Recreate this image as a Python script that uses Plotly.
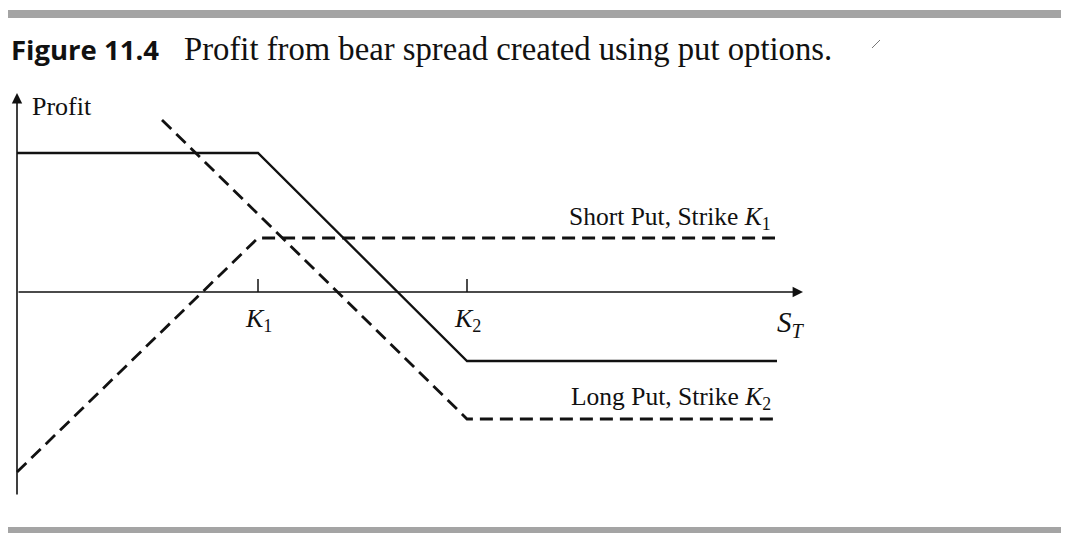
import plotly.graph_objects as go

# payoff breakpoints (S_T, profit)
bear_s = [0, 24.1, 45.0, 76.0]
bear_profit = [13.9, 13.9, -6.9, -6.9]

long_put_s = [14.5, 45.0, 76.0]
long_put_profit = [17.2, -12.7, -12.7]

short_put_s = [0, 24.1, 75.8]
short_put_profit = [-18.0, 5.4, 5.4]

strikes = [24.1, 45.0]
strike_labels = ["<i>K</i><sub>1</sub>", "<i>K</i><sub>2</sub>"]

serif = "Liberation Serif"
black = "#111111"

fig = go.Figure()
fig.add_trace(go.Scatter(x=bear_s, y=bear_profit, mode="lines",
                         line=dict(color=black, width=2.3)))
fig.add_trace(go.Scatter(x=long_put_s, y=long_put_profit, mode="lines",
                         line=dict(color=black, width=2.8, dash="13px,7px")))
fig.add_trace(go.Scatter(x=short_put_s, y=short_put_profit, mode="lines",
                         line=dict(color=black, width=2.8, dash="13px,7px")))

# axes with arrows
fig.add_annotation(x=78.6, y=0, ax=0, ay=0, xref="x", yref="y", axref="x", ayref="y",
                   showarrow=True, arrowhead=2, arrowsize=1.3, arrowwidth=1.6,
                   arrowcolor=black, text="")
fig.add_annotation(x=0, y=19.9, ax=0, ay=-20.4, xref="x", yref="y", axref="x", ayref="y",
                   showarrow=True, arrowhead=2, arrowsize=1.3, arrowwidth=1.6,
                   arrowcolor=black, text="")

for k, lab in zip(strikes, strike_labels):
    fig.add_shape(type="line", x0=k, x1=k, y0=0, y1=1.3,
                  line=dict(color=black, width=1.5))
    fig.add_annotation(x=k, y=-2.8, text=lab, showarrow=False,
                       font=dict(family=serif, size=26, color=black))

fig.add_annotation(x=77.4, y=-3.2, text="<i>S</i><sub><i>T</i></sub>", showarrow=False,
                   font=dict(family=serif, size=29, color=black))
fig.add_annotation(x=1.3, y=18.6, text="Profit", showarrow=False, xanchor="left",
                   font=dict(family=serif, size=26, color=black))
fig.add_annotation(x=75.6, y=7.4, text="Short Put, Strike <i>K</i><sub>1</sub>",
                   showarrow=False, xanchor="right",
                   font=dict(family=serif, size=25.5, color=black))
fig.add_annotation(x=75.6, y=-10.6, text="Long Put, Strike <i>K</i><sub>2</sub>",
                   showarrow=False, xanchor="right",
                   font=dict(family=serif, size=25.5, color=black))

# caption
fig.add_annotation(x=-0.8, y=24.3, text="<b>Figure 11.4</b>", showarrow=False,
                   xanchor="left", font=dict(family="Open Sans", size=27.5, color=black))
fig.add_annotation(x=16.5, y=24.3, text="Profit from bear spread created using put options.",
                   showarrow=False, xanchor="left",
                   font=dict(family=serif, size=32.7, color=black))

# scanned rule bars
fig.add_shape(type="rect", xref="paper", x0=0, x1=1, y0=27.4, y1=28.2,
              line_width=0, fillcolor="#a4a4a4")
fig.add_shape(type="rect", xref="paper", x0=0, x1=1, y0=-24.1, y1=-23.5,
              line_width=0, fillcolor="#a4a4a4")
fig.add_shape(type="line", x0=85.5, x1=86.3, y0=24.4, y1=25.2,
              line=dict(color="#777777", width=1))

# ranges offset by the page's 8px body margin
fig.update_layout(
    width=1069, height=533,
    margin=dict(l=0, r=0, t=0, b=0),
    paper_bgcolor="white", plot_bgcolor="white",
    showlegend=False,
    xaxis=dict(range=[-0.9, 106.0], visible=False, fixedrange=True),
    yaxis=dict(range=[-24.9, 28.4], visible=False, fixedrange=True),
)

fig.write_html("out.html")
